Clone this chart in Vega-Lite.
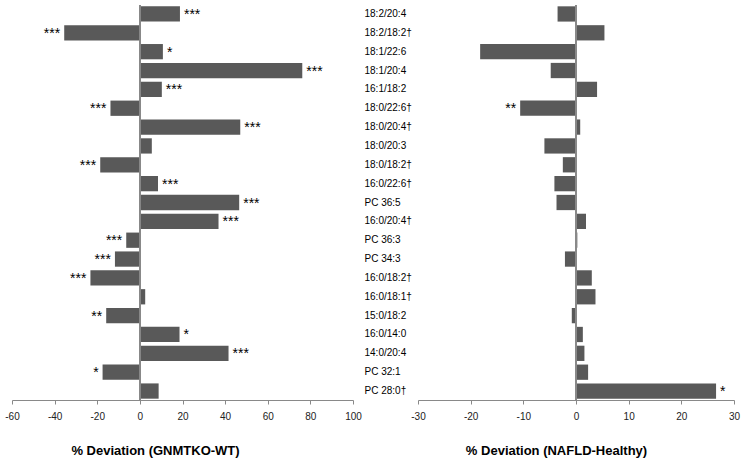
{
  "$schema": "https://vega.github.io/schema/vega-lite/v6.json",
  "padding": {"left": 4, "top": 4, "right": 5, "bottom": 5},
  "config": {"view": {"stroke": null}, "font": "Liberation Sans"},
  "datasets": {
    "lipids": [
      {"lipid": "18:2/20:4", "gnmt": 18.8, "gnmtSig": "***", "nafld": -3.5, "nafldSig": ""},
      {"lipid": "18:2/18:2†", "gnmt": -35.5, "gnmtSig": "***", "nafld": 5.4, "nafldSig": ""},
      {"lipid": "18:1/22:6", "gnmt": 10.8, "gnmtSig": "*", "nafld": -18.2, "nafldSig": ""},
      {"lipid": "18:1/20:4", "gnmt": 76.2, "gnmtSig": "***", "nafld": -4.8, "nafldSig": ""},
      {"lipid": "16:1/18:2", "gnmt": 10.3, "gnmtSig": "***", "nafld": 4.0, "nafldSig": ""},
      {"lipid": "18:0/22:6†", "gnmt": -13.8, "gnmtSig": "***", "nafld": -10.6, "nafldSig": "**"},
      {"lipid": "18:0/20:4†", "gnmt": 47.1, "gnmtSig": "***", "nafld": 0.8, "nafldSig": ""},
      {"lipid": "18:0/20:3", "gnmt": 5.6, "gnmtSig": "", "nafld": -6.0, "nafldSig": ""},
      {"lipid": "18:0/18:2†", "gnmt": -18.6, "gnmtSig": "***", "nafld": -2.5, "nafldSig": ""},
      {"lipid": "16:0/22:6†", "gnmt": 8.5, "gnmtSig": "***", "nafld": -4.1, "nafldSig": ""},
      {"lipid": "PC 36:5", "gnmt": 46.6, "gnmtSig": "***", "nafld": -3.7, "nafldSig": ""},
      {"lipid": "16:0/20:4†", "gnmt": 36.9, "gnmtSig": "***", "nafld": 1.9, "nafldSig": ""},
      {"lipid": "PC 36:3", "gnmt": -6.4, "gnmtSig": "***", "nafld": 0.25, "nafldSig": ""},
      {"lipid": "PC 34:3", "gnmt": -11.7, "gnmtSig": "***", "nafld": -2.1, "nafldSig": ""},
      {"lipid": "16:0/18:2†", "gnmt": -23.2, "gnmtSig": "***", "nafld": 3.0, "nafldSig": ""},
      {"lipid": "16:0/18:1†", "gnmt": 2.5, "gnmtSig": "", "nafld": 3.7, "nafldSig": ""},
      {"lipid": "15:0/18:2", "gnmt": -15.8, "gnmtSig": "**", "nafld": -0.8, "nafldSig": ""},
      {"lipid": "16:0/14:0", "gnmt": 18.6, "gnmtSig": "*", "nafld": 1.3, "nafldSig": ""},
      {"lipid": "14:0/20:4", "gnmt": 41.6, "gnmtSig": "***", "nafld": 1.6, "nafldSig": ""},
      {"lipid": "PC 32:1", "gnmt": -17.5, "gnmtSig": "*", "nafld": 2.3, "nafldSig": ""},
      {"lipid": "PC 28:0†", "gnmt": 8.8, "gnmtSig": "", "nafld": 26.6, "nafldSig": "*"}
    ]
  },
  "bounds": "flush",
  "spacing": 65,
  "hconcat": [
    {
      "width": 341,
      "height": 395,
      "data": {"name": "lipids"},
      "layer": [
        {
          "mark": {"type": "bar", "color": "#595959"},
          "encoding": {
            "y": {"field": "lipid", "type": "nominal", "sort": null, "axis": null,
                  "scale": {"paddingInner": 0.19, "paddingOuter": 0.07}},
            "x": {"field": "gnmt", "type": "quantitative",
                  "scale": {"domain": [-60, 100], "nice": false},
                  "axis": {"values": [-60, -40, -20, 0, 20, 40, 60, 80, 100], "grid": false,
                           "labelExpr": "datum.value < 0 ? '-' + abs(datum.value) : '' + datum.value",
                           "domainColor": "#898989", "tickColor": "#898989", "tickSize": 4,
                           "labelFontSize": 10, "labelColor": "#222222", "labelFlush": false, "labelPadding": 7,
                           "title": "% Deviation (GNMTKO-WT)", "titleFontSize": 13, "titleFontWeight": "bold",
                           "titleColor": "#000000", "titleX": 143, "titleY": 50, "titleBaseline": "middle", "titleAlign": "center"}}
          }
        },
        {
          "mark": {"type": "rule", "color": "#898989", "strokeWidth": 1},
          "encoding": {"x": {"datum": 0}}
        },
        {
          "mark": {"type": "text", "fontSize": 14, "color": "#000000", "baseline": "alphabetic", "dy": 5,
                   "align": {"expr": "datum.gnmt < 0 ? 'right' : 'left'"},
                   "dx": {"expr": "datum.gnmt < 0 ? -4 : 4"}},
          "encoding": {
            "y": {"field": "lipid", "type": "nominal", "sort": null},
            "x": {"field": "gnmt", "type": "quantitative"},
            "text": {"field": "gnmtSig"}
          }
        }
      ]
    },
    {
      "width": 316,
      "height": 395,
      "data": {"name": "lipids"},
      "layer": [
        {
          "mark": {"type": "bar", "color": "#595959"},
          "encoding": {
            "y": {"field": "lipid", "type": "nominal", "sort": null,
                  "scale": {"paddingInner": 0.19, "paddingOuter": 0.07},
                  "axis": {"domain": false, "ticks": false, "labelAlign": "left", "labelPadding": 54,
                           "labelFontSize": 10, "labelColor": "#000000", "title": null}},
            "x": {"field": "nafld", "type": "quantitative",
                  "scale": {"domain": [-30, 30], "nice": false},
                  "axis": {"values": [-30, -20, -10, 0, 10, 20, 30], "grid": false,
                           "labelExpr": "datum.value < 0 ? '-' + abs(datum.value) : '' + datum.value",
                           "domainColor": "#898989", "tickColor": "#898989", "tickSize": 4,
                           "labelFontSize": 10, "labelColor": "#222222", "labelFlush": false, "labelPadding": 7,
                           "title": "% Deviation (NAFLD-Healthy)", "titleFontSize": 13, "titleFontWeight": "bold",
                           "titleColor": "#000000", "titleX": 138, "titleY": 50, "titleBaseline": "middle", "titleAlign": "center"}}
          }
        },
        {
          "mark": {"type": "rule", "color": "#898989", "strokeWidth": 1},
          "encoding": {"x": {"datum": 0}}
        },
        {
          "mark": {"type": "text", "fontSize": 14, "color": "#000000", "baseline": "alphabetic", "dy": 5,
                   "align": {"expr": "datum.nafld < 0 ? 'right' : 'left'"},
                   "dx": {"expr": "datum.nafld < 0 ? -4 : 4"}},
          "encoding": {
            "y": {"field": "lipid", "type": "nominal", "sort": null},
            "x": {"field": "nafld", "type": "quantitative"},
            "text": {"field": "nafldSig"}
          }
        }
      ]
    }
  ]
}
